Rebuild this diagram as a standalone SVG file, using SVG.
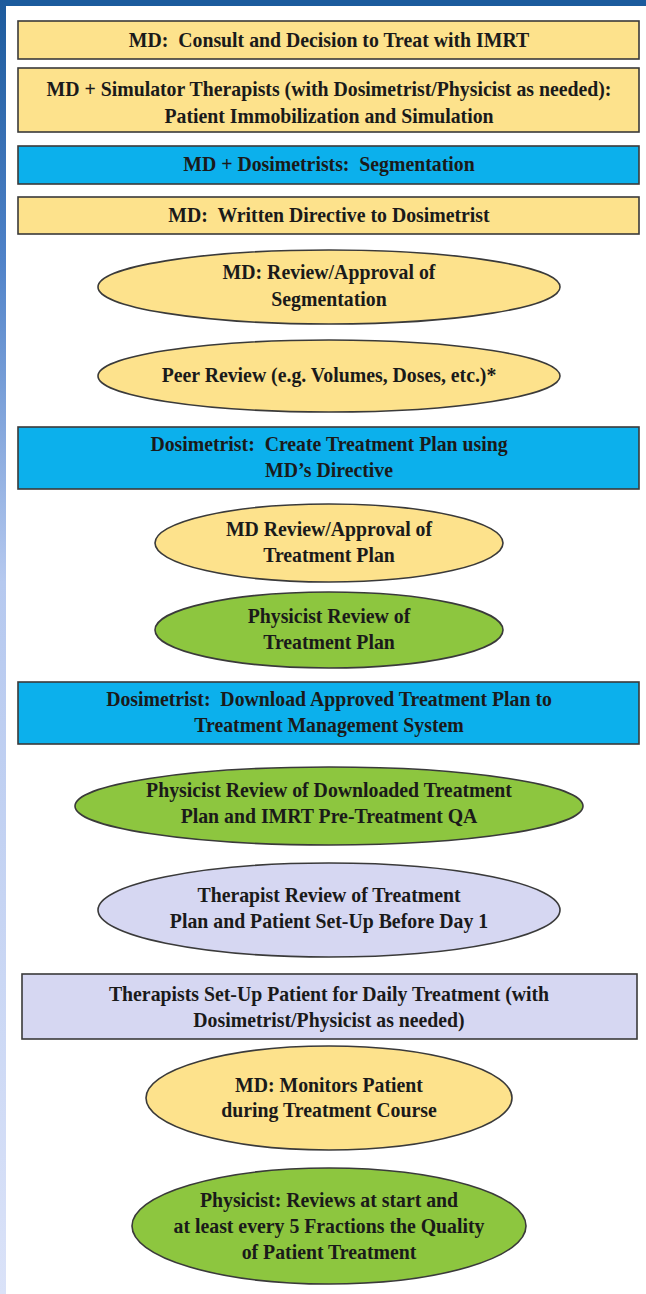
<svg xmlns="http://www.w3.org/2000/svg" width="646" height="1294" viewBox="0 0 646 1294">
<defs>
<linearGradient id="side" x1="0" y1="0" x2="0" y2="1">
<stop offset="0" stop-color="#1c5a9c"/>
<stop offset="0.2" stop-color="#4f82c8"/>
<stop offset="0.45" stop-color="#b6c9ef"/>
<stop offset="1" stop-color="#dae2f8"/>
</linearGradient>
<style>
.t{font-family:"Liberation Serif","Times New Roman",serif;font-weight:bold;font-size:22px;fill:#1a1a1a;text-anchor:middle;white-space:pre}
.sh{stroke:#3a3a3a;stroke-width:1.6}
.y{fill:#fde28c}
.b{fill:#0cb0ec}
.g{fill:#8dc63f}
.l{fill:#d6d7f2}
</style>
</defs>
<rect x="0" y="0" width="646" height="1294" fill="#ffffff"/>
<rect x="0" y="0" width="646" height="6" fill="#1b5b9d"/>
<rect x="0" y="0" width="6" height="1294" fill="url(#side)"/>
<g id="connectors"></g>
<g id="n1">
<rect class="y sh" x="18" y="21" width="621" height="38"/>
<text class="t" transform="translate(329 0) scale(0.9 1)" x="0" y="47" xml:space="preserve">MD:  Consult and Decision to Treat with IMRT</text>
</g>
<g id="n2">
<rect class="y sh" x="18" y="68" width="621" height="64"/>
<text class="t" transform="translate(329 0) scale(0.9 1)" x="0" y="96">MD + Simulator Therapists (with Dosimetrist/Physicist as needed):</text>
<text class="t" transform="translate(329 0) scale(0.9 1)" x="0" y="123">Patient Immobilization and Simulation</text>
</g>
<g id="n3">
<rect class="b sh" x="18" y="146" width="621" height="38"/>
<text class="t" transform="translate(329 0) scale(0.9 1)" x="0" y="171" xml:space="preserve">MD + Dosimetrists:  Segmentation</text>
</g>
<g id="n4">
<rect class="y sh" x="18" y="197" width="621" height="37"/>
<text class="t" transform="translate(329 0) scale(0.9 1)" x="0" y="222" xml:space="preserve">MD:  Written Directive to Dosimetrist</text>
</g>
<g id="n5">
<ellipse class="y sh" cx="329" cy="287" rx="231" ry="37"/>
<text class="t" transform="translate(329 0) scale(0.9 1)" x="0" y="279">MD: Review/Approval of</text>
<text class="t" transform="translate(329 0) scale(0.9 1)" x="0" y="306">Segmentation</text>
</g>
<g id="n6">
<ellipse class="y sh" cx="329" cy="376" rx="231" ry="36"/>
<text class="t" transform="translate(329 0) scale(0.9 1)" x="0" y="382">Peer Review (e.g. Volumes, Doses, etc.)*</text>
</g>
<g id="n7">
<rect class="b sh" x="18" y="427" width="621" height="62"/>
<text class="t" transform="translate(329 0) scale(0.9 1)" x="0" y="451" xml:space="preserve">Dosimetrist:  Create Treatment Plan using</text>
<text class="t" transform="translate(329 0) scale(0.9 1)" x="0" y="477">MD’s Directive</text>
</g>
<g id="n8">
<ellipse class="y sh" cx="329" cy="543" rx="174" ry="39"/>
<text class="t" transform="translate(329 0) scale(0.9 1)" x="0" y="536">MD Review/Approval of</text>
<text class="t" transform="translate(329 0) scale(0.9 1)" x="0" y="562">Treatment Plan</text>
</g>
<g id="n9">
<ellipse class="g sh" cx="329" cy="630" rx="174" ry="38"/>
<text class="t" transform="translate(329 0) scale(0.9 1)" x="0" y="623">Physicist Review of</text>
<text class="t" transform="translate(329 0) scale(0.9 1)" x="0" y="649">Treatment Plan</text>
</g>
<g id="n10">
<rect class="b sh" x="18" y="682" width="621" height="62"/>
<text class="t" transform="translate(329 0) scale(0.9 1)" x="0" y="706" xml:space="preserve">Dosimetrist:  Download Approved Treatment Plan to</text>
<text class="t" transform="translate(329 0) scale(0.9 1)" x="0" y="732">Treatment Management System</text>
</g>
<g id="n11">
<ellipse class="g sh" cx="329" cy="806" rx="254" ry="39"/>
<text class="t" transform="translate(329 0) scale(0.9 1)" x="0" y="797">Physicist Review of Downloaded Treatment</text>
<text class="t" transform="translate(329 0) scale(0.9 1)" x="0" y="823">Plan and IMRT Pre-Treatment QA</text>
</g>
<g id="n12">
<ellipse class="l sh" cx="329" cy="910" rx="231" ry="47"/>
<text class="t" transform="translate(329 0) scale(0.9 1)" x="0" y="902">Therapist Review of Treatment</text>
<text class="t" transform="translate(329 0) scale(0.9 1)" x="0" y="928">Plan and Patient Set-Up Before Day 1</text>
</g>
<g id="n13">
<rect class="l sh" x="22" y="974" width="615" height="65"/>
<text class="t" transform="translate(329 0) scale(0.9 1)" x="0" y="1001">Therapists Set-Up Patient for Daily Treatment (with</text>
<text class="t" transform="translate(329 0) scale(0.9 1)" x="0" y="1027">Dosimetrist/Physicist as needed)</text>
</g>
<g id="n14">
<ellipse class="y sh" cx="329" cy="1098" rx="183" ry="52"/>
<text class="t" transform="translate(329 0) scale(0.9 1)" x="0" y="1092">MD: Monitors Patient</text>
<text class="t" transform="translate(329 0) scale(0.9 1)" x="0" y="1117">during Treatment Course</text>
</g>
<g id="n15">
<ellipse class="g sh" cx="329" cy="1226" rx="197" ry="58"/>
<text class="t" transform="translate(329 0) scale(0.9 1)" x="0" y="1207">Physicist: Reviews at start and</text>
<text class="t" transform="translate(329 0) scale(0.9 1)" x="0" y="1233">at least every 5 Fractions the Quality</text>
<text class="t" transform="translate(329 0) scale(0.9 1)" x="0" y="1259">of Patient Treatment</text>
</g>
</svg>
